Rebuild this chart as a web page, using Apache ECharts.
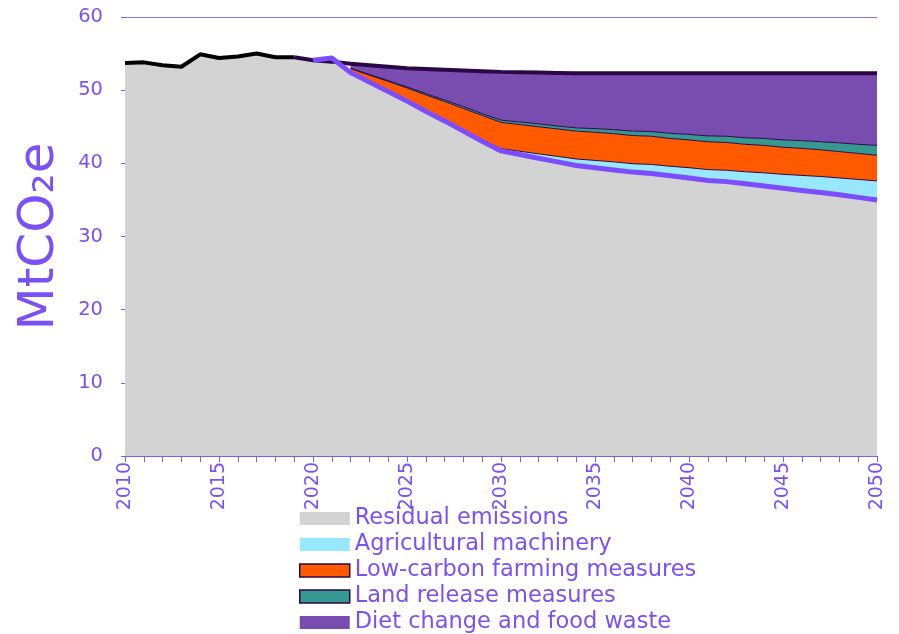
<!DOCTYPE html>
<html><head><meta charset="utf-8">
<script src="https://cdn.jsdelivr.net/npm/echarts@6/dist/echarts.min.js"></script>
<style>html,body{margin:0;padding:0;background:#fff}#c{width:899px;height:634px}</style>
</head><body><div id="c"></div>
<script>
const years = [];
for (let y = 2010; y <= 2050; y++) years.push(String(y));
const N = null;
// historical emissions 2010-2019
const historical = [53.7,53.8,53.4,53.2,54.9,54.4,54.6,55.0,54.5,54.5];
// residual emissions pathway 2020-2050
const residualPath = [54.1,54.4,52.4,51.1,49.8,48.5,47.1,45.8,44.4,43.0,41.7,41.2,40.7,40.2,39.7,39.4,39.1,38.8,38.6,38.3,38.0,37.65,37.5,37.2,36.9,36.6,36.3,36.0,35.7,35.35,35.0];
// abatement wedges 2020-2050
const machinery = [N,N,0.05,0.05,0.1,0.1,0.15,0.15,0.2,0.25,0.3,0.45,0.6,0.75,0.9,1.0,1.1,1.15,1.25,1.3,1.4,1.5,1.55,1.65,1.8,1.9,2.05,2.2,2.3,2.45,2.6];
const lowCarbon = [N,N,0.5,0.9,1.3,1.7,2.1,2.5,2.9,3.3,3.6,3.65,3.7,3.75,3.8,3.85,3.85,3.85,3.85,3.8,3.8,3.8,3.8,3.75,3.75,3.7,3.7,3.65,3.6,3.55,3.5];
const landRelease = [N,N,0.05,0.1,0.1,0.15,0.2,0.2,0.25,0.25,0.3,0.35,0.4,0.4,0.45,0.5,0.55,0.6,0.65,0.7,0.75,0.8,0.85,0.9,0.95,1.0,1.05,1.1,1.2,1.25,1.35];
const diet = [N,N,0.6,1.25,1.9,2.55,3.35,4.15,4.95,5.8,6.6,6.8,7.0,7.25,7.45,7.55,7.7,7.9,7.95,8.2,8.35,8.55,8.6,8.8,8.9,9.1,9.2,9.35,9.5,9.7,9.85];
// baseline 2019-2050
const baseline = [54.5,54.1,53.9,53.6,53.4,53.2,53.0,52.9,52.8,52.7,52.6,52.5,52.45,52.4,52.35,52.3,52.3,52.3,52.3,52.3,52.3,52.3,52.3,52.3,52.3,52.3,52.3,52.3,52.3,52.3,52.3,52.3];
const yTicks = [0,10,20,30,40,50,60];

const pre = n => Array(n).fill(null);
const residualFull = historical.concat(residualPath);
const histFull = historical.concat(pre(31));
const pathFull = pre(10).concat(residualPath);
const baseFull = pre(9).concat(baseline);
const wedge = a => pre(10).concat(a);

const TXT = '#7a50f7';
const FONT = 'DejaVu Sans';
const chart = echarts.init(document.getElementById('c'));
chart.setOption({
  animation: false,
  grid: {left: 125, right: 22, top: 17, bottom: 178},
  legend: {
    orient: 'vertical', left: 294, top: 502, height: 132, itemWidth: 50, itemHeight: 13, itemGap: 3,
    icon: 'rect',
    textStyle: {color: TXT, fontSize: 22.5, fontFamily: FONT, lineHeight: 22},
    data: [
      {name: 'Residual emissions'},
      {name: 'Agricultural machinery'},
      {name: 'Low-carbon farming measures', itemStyle: {borderColor: '#2b0845', borderWidth: 1.5}},
      {name: 'Land release measures', itemStyle: {borderColor: '#2b0845', borderWidth: 1.5}},
      {name: 'Diet change and food waste'}
    ]
  },
  xAxis: {
    type: 'category', data: years, boundaryGap: false,
    axisLine: {lineStyle: {color: '#7b5cf5', width: 1}},
    axisTick: {interval: 0, length: 6, lineStyle: {color: '#7b5cf5'}},
    axisLabel: {interval: 4, rotate: 90, color: TXT, fontSize: 19, fontFamily: FONT, margin: 6},
    splitLine: {show: false}
  },
  yAxis: {
    type: 'value', min: yTicks[0], max: yTicks[yTicks.length-1], interval: 10,
    name: 'MtCO₂e', nameLocation: 'middle', nameGap: 60, nameRotate: 90,
    nameTextStyle: {color: TXT, fontSize: 50, fontFamily: FONT},
    axisLine: {show: false},
    axisTick: {show: true, length: 4, lineStyle: {color: '#7b5cf5'}},
    axisLabel: {color: TXT, fontSize: 19.5, fontFamily: FONT, margin: 22},
    splitLine: {lineStyle: {color: '#8a70e8', width: 1}}
  },
  series: [
    {name: 'Residual emissions', type: 'line', stack: 'a', data: residualFull, showSymbol: false,
     lineStyle: {width: 0}, itemStyle: {color: '#d3d3d3'}, areaStyle: {color: '#d3d3d3', opacity: 1}},
    {name: 'Agricultural machinery', type: 'line', stack: 'a', data: wedge(machinery), showSymbol: false,
     lineStyle: {width: 1, color: '#2b0845'}, itemStyle: {color: '#97e8ff'}, areaStyle: {color: '#97e8ff', opacity: 1}},
    {name: 'Low-carbon farming measures', type: 'line', stack: 'a', data: wedge(lowCarbon), showSymbol: false,
     lineStyle: {width: 1, color: '#2b0845'}, itemStyle: {color: '#ff5a00'}, areaStyle: {color: '#ff5a00', opacity: 1}},
    {name: 'Land release measures', type: 'line', stack: 'a', data: wedge(landRelease), showSymbol: false,
     lineStyle: {width: 1, color: '#2b0845'}, itemStyle: {color: '#359891'}, areaStyle: {color: '#359891', opacity: 1}},
    {name: 'Diet change and food waste', type: 'line', stack: 'a', data: wedge(diet), showSymbol: false,
     lineStyle: {width: 0}, itemStyle: {color: '#794cb0'}, areaStyle: {color: '#794cb0', opacity: 1}},
    {name: 'Historical', type: 'line', data: histFull, showSymbol: false,
     lineStyle: {width: 4, color: '#000000'}, itemStyle: {color: '#000'}},
    {name: 'Baseline', type: 'line', data: baseFull, showSymbol: false,
     lineStyle: {width: 4, color: '#2b0845'}, itemStyle: {color: '#2b0845'}},
    {name: 'Pathway', type: 'line', data: pathFull, showSymbol: false,
     lineStyle: {width: 5, color: '#7c4dff'}, itemStyle: {color: '#7c4dff'}}
  ]
});
</script></body></html>
